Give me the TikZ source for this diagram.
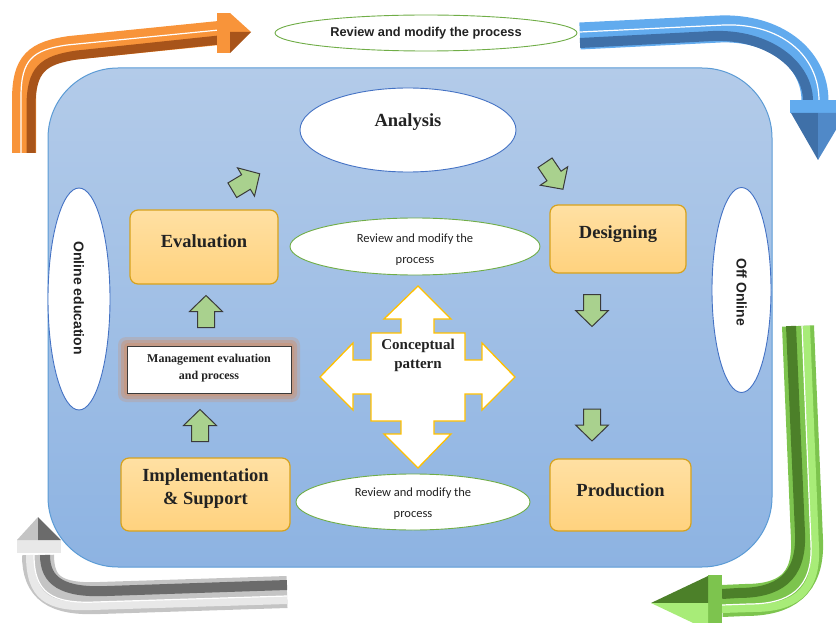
\documentclass[tikz,border=0pt]{standalone}
\usepackage{fontspec}
\setmainfont{Liberation Serif}
\newfontfamily\calib{Carlito}
\newfontfamily\arialf{Liberation Sans}
\usetikzlibrary{shapes.geometric}
\definecolor{bgtop}{HTML}{B3CBE9}
\definecolor{bgbot}{HTML}{8DB3E2}
\definecolor{bgborder}{HTML}{5B9BD5}
\definecolor{boxtop}{HTML}{FFE0A3}
\definecolor{boxbot}{HTML}{FFD27E}
\definecolor{boxborder}{HTML}{D6A21E}
\definecolor{ellgreen}{HTML}{70AD47}
\definecolor{ellblue}{HTML}{4472C4}
\definecolor{arrgreen}{HTML}{A9D18E}
\definecolor{arrdark}{HTML}{3A3A3A}
\definecolor{crossgold}{HTML}{FFC000}
\definecolor{glow}{HTML}{C49A86}
\definecolor{txt}{HTML}{222222}
\definecolor{orL}{HTML}{F8943A}
\definecolor{orD}{HTML}{A8541A}
\definecolor{blL}{HTML}{62ABEE}
\definecolor{blD}{HTML}{3F70A8}
\definecolor{blM}{HTML}{5089C8}
\definecolor{grL}{HTML}{7DC44E}
\definecolor{grD}{HTML}{4C8029}
\definecolor{grH}{HTML}{A8EC78}
\definecolor{gyL}{HTML}{C4C4C4}
\definecolor{gyD}{HTML}{6B6B6B}
\definecolor{gyH}{HTML}{E8E8E8}
\tikzset{
  obox/.style={draw=boxborder, line width=1.2, rounded corners=8, top color=boxtop, bottom color=boxbot, inner sep=0},
  otext/.style={text=txt, font=\fontsize{18.5}{23}\selectfont\bfseries, align=center, inner sep=0},
  gell/.style={ellipse, draw=ellgreen, fill=white, line width=0.9, inner sep=0},
  bell/.style={ellipse, draw=ellblue, fill=white, line width=0.9, inner sep=0},
  rtext/.style={text=txt, font=\calib\fontsize{12.5}{21}\selectfont, align=center, inner sep=0},
  garrsty/.style={fill=arrgreen, draw=arrdark, line width=1, line join=miter},
  garrow/.pic={\path[garrsty] (-16,-8.5)--(0,-8.5)--(0,-16.5)--(16,0)--(0,16.5)--(0,8.5)--(-16,8.5)--cycle;}
}
\begin{document}
\begin{tikzpicture}[x=1pt,y=-1pt]
\useasboundingbox (0,0) rectangle (836,623);
% main panel
\path[draw=bgborder, line width=1, top color=bgtop, bottom color=bgbot, rounded corners=70] (48,68) rectangle (772,567);

% ---- orange 3D arrow
\draw[line width=24, orL] (24,153) -- (24,100) .. controls (24,62) and (36,53) .. (70,48) -- (219,33);
\draw[line width=9, orD, shift={(7,7)}] (24,146) -- (24,100) .. controls (24,62) and (36,53) .. (70,48) -- (212,33);
\draw[line width=1.2, white, shift={(-3,-3)}] (24,156) -- (24,100) .. controls (24,62) and (36,53) .. (70,48) -- (222,33);
\fill[orL] (217,13) rectangle (230,53);
\fill[orL] (230,13) -- (251,32) -- (230,32) -- cycle;
\fill[orD] (230,32) -- (251,32) -- (230,53) -- cycle;

% ---- blue 3D arrow
\draw[line width=27, blL] (580,36) -- (720,29) .. controls (775,27) and (815,58) .. (815,101);
\draw[line width=10, blD, shift={(-7,7)}] (587,36) -- (720,29) .. controls (775,27) and (815,58) .. (815,94);
\draw[line width=1.2, white, shift={(4,-4)}] (576,36) -- (720,29) .. controls (775,27) and (815,58) .. (815,105);
\fill[blL] (790,100) rectangle (846,113);
\fill[blD] (791,113) -- (818,113) -- (818,160) -- cycle;
\fill[blM] (818,113) -- (846,113) -- (818,160) -- cycle;

% ---- green 3D arrow
\draw[line width=32, grL] (798,326) -- (807,540) .. controls (809,585) and (785,600) .. (745,600) -- (722,601);
\draw[line width=10, grD, shift={(-7,-7)}] (798,333) -- (807,540) .. controls (809,585) and (785,600) .. (745,600) -- (729,601);
\draw[line width=8, grH, shift={(8,8)}] (798,318) -- (807,540) .. controls (809,585) and (785,600) .. (745,600) -- (714,601);
\draw[line width=1.2, white, shift={(4,4)}] (798,322) -- (807,540) .. controls (809,585) and (785,600) .. (745,600) -- (718,601);
\fill[grL] (708,575) rectangle (722,630);
\fill[grD] (708,576) -- (708,603) -- (651,603) -- cycle;
\fill[grH] (708,603) -- (708,630) -- (651,603) -- cycle;

% ---- gray 3D arrow
\draw[line width=32, gyL] (287,592) -- (100,598) .. controls (55,600) and (38,588) .. (38,555);
\draw[line width=10, gyD, shift={(7,-7)}] (280,592) -- (100,598) .. controls (55,600) and (38,588) .. (38,562);
\draw[line width=8, gyH, shift={(-8,8)}] (295,592) -- (100,598) .. controls (55,600) and (38,588) .. (38,547);
\draw[line width=1.2, white, shift={(-4,4)}] (291,592) -- (100,598) .. controls (55,600) and (38,588) .. (38,551);
\fill[gyH] (17,540) rectangle (61,553);
\fill[gyL] (17,540) -- (38,540) -- (38,517) -- cycle;
\fill[gyD] (38,540) -- (61,540) -- (38,517) -- cycle;

% ---- ellipses
\node[gell, minimum width=302, minimum height=36] (top) at (426,33) {};
\node[text=txt, font=\arialf\fontsize{12.8}{15}\selectfont\bfseries, inner sep=0] (topt) at (426,33) {Review and modify the process};
\node[bell, minimum width=216, minimum height=84] (ana) at (408,130) {};
\node[otext] (anat) at (408,122) {Analysis};
\node[gell, minimum width=250, minimum height=57] (rm1) at (415,246.5) {};
\node[rtext] (rm1t) at (415,250) {Review and modify the\\process};
\node[gell, minimum width=234, minimum height=56] (rm2) at (413,502) {};
\node[rtext] (rm2t) at (413,504) {Review and modify the\\process};
\node[bell, minimum width=62, minimum height=222] (onl) at (79,299) {};
\node[rotate=-90, text=txt, font=\arialf\fontsize{14}{16}\selectfont\bfseries, inner sep=0] (onlt) at (79,298) {Online education};
\node[bell, minimum width=59, minimum height=205] (off) at (741.5,290) {};
\node[rotate=-90, text=txt, font=\arialf\fontsize{14}{16}\selectfont\bfseries, inner sep=0] (offt) at (741.5,292) {Off Online};

% ---- process boxes
\node[obox, minimum width=148, minimum height=74] (eval) at (204,247) {};
\node[otext] (evalt) at (204,241) {Evaluation};
\node[obox, minimum width=136, minimum height=68] (des) at (618,239) {};
\node[otext] (dest) at (618,234) {Designing};
\node[obox, minimum width=141, minimum height=72] (prod) at (620.5,495) {};
\node[otext] (prodt) at (620.5,490) {Production};
\node[obox, minimum width=169, minimum height=73] (impl) at (205.5,494.5) {};
\node[otext] (implt) at (205.5,489) {Implementation\\\& Support};

% ---- management box with glow
\fill[glow, opacity=0.35, rounded corners=8] (118,337) rectangle (300,402);
\fill[glow, opacity=0.6, rounded corners=6] (121,340) rectangle (297,399);
\fill[glow, rounded corners=4] (124,343) rectangle (294,396);
\node[draw=arrdark, fill=white, line width=1, minimum width=164, minimum height=47, inner sep=0] (mgmt) at (209,369.5) {};
\node[text=txt, font=\fontsize{12}{17}\selectfont\bfseries, align=center, inner sep=0] (mgmtt) at (209,368) {Management evaluation\\and process};

% ---- conceptual pattern cross
\path[draw=crossgold, fill=white, line width=1.3, line join=miter]
 (418,286) -- (451,319) -- (434,319) -- (434,333) -- (465,333) -- (465,360) -- (482,360) -- (482,343) -- (515,377) -- (482,410) -- (482,394) -- (465,394) -- (465,421) -- (434,421) -- (434,434) -- (451,434) -- (418,468) -- (384,434) -- (401,434) -- (401,421) -- (371,421) -- (371,394) -- (353,394) -- (353,410) -- (320,377) -- (353,343) -- (353,360) -- (371,360) -- (371,333) -- (401,333) -- (401,319) -- (384,319) -- cycle;
\node[text=txt, font=\fontsize{15}{19}\selectfont\bfseries, align=center, inner sep=0] (cp) at (418,355) {Conceptual\\pattern};

% ---- small green arrows
\pic[rotate=31] at (246,182) {garrow};
\pic[rotate=-56] at (554,176) {garrow};
\pic[rotate=-90] at (592,310.5) {garrow};
\pic[rotate=-90] at (592,425) {garrow};
\pic[rotate=90] at (206,311.5) {garrow};
\pic[rotate=90] at (200,425.5) {garrow};
\end{tikzpicture}
\end{document}
